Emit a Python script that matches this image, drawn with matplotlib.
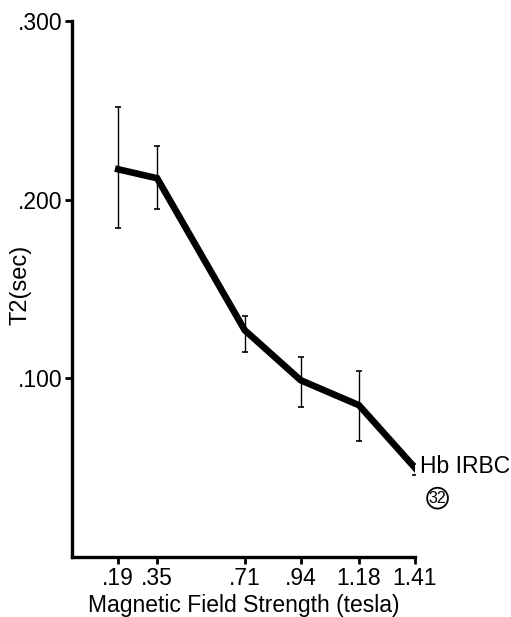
import matplotlib.pyplot as plt

# T2 relaxation vs field strength, Hb IRBC sample
campo = [0.19, 0.35, 0.71, 0.94, 1.18, 1.41]
t2 = [0.217, 0.212, 0.127, 0.099, 0.085, 0.050]
t2_sup = [0.252, 0.230, 0.135, 0.112, 0.104, 0.052]
t2_inf = [0.184, 0.195, 0.115, 0.084, 0.065, 0.046]
rotulos_x = [".19", ".35", ".71", ".94", "1.18", "1.41"]
ticks_y = [0.100, 0.200, 0.300]
rotulos_y = [".100", ".200", ".300"]

plt.rcParams["font.family"] = ["Liberation Sans", "DejaVu Sans"]

fig = plt.figure(figsize=(5.11, 6.17), dpi=100)
ax = fig.add_axes([0.141, 0.097, 0.671, 0.869])

erro = [[v - b for v, b in zip(t2, t2_inf)], [s - v for v, s in zip(t2, t2_sup)]]
ax.errorbar(campo, t2, yerr=erro, fmt="none", ecolor="black",
            elinewidth=1.0, capsize=2.5, capthick=1.2, zorder=2)
ax.plot(campo, t2, color="black", linewidth=4.8, solid_joinstyle="miter", zorder=3)

ax.set_xlim(0, 1.41)
ax.set_ylim(0, 0.3)
ax.set_xticks(campo)
ax.set_xticklabels(rotulos_x)
ax.set_yticks(ticks_y)
ax.set_yticklabels(rotulos_y)

for lado in ["top", "right"]:
    ax.spines[lado].set_visible(False)
for lado in ["left", "bottom"]:
    ax.spines[lado].set_linewidth(2.4)

ax.tick_params(axis="both", direction="out", length=5, width=2.0,
               labelsize=16.5, colors="black", pad=2)

ax.set_xlabel("Magnetic Field Strength (tesla)", fontsize=16.5, labelpad=3)
ax.set_ylabel("T2(sec)", fontsize=17)
ax.yaxis.set_label_coords(-0.117, 0.507)

ax.text(1.43, 0.0505, "Hb IRBC", fontsize=16.5, ha="left", va="center",
        clip_on=False)
ax.text(1.503, 0.033, "32", fontsize=11.5, ha="center", va="center",
        clip_on=False,
        bbox=dict(boxstyle="circle,pad=0.1", facecolor="white",
                  edgecolor="black", linewidth=1.3))

fig.savefig("out.png", dpi=100)
